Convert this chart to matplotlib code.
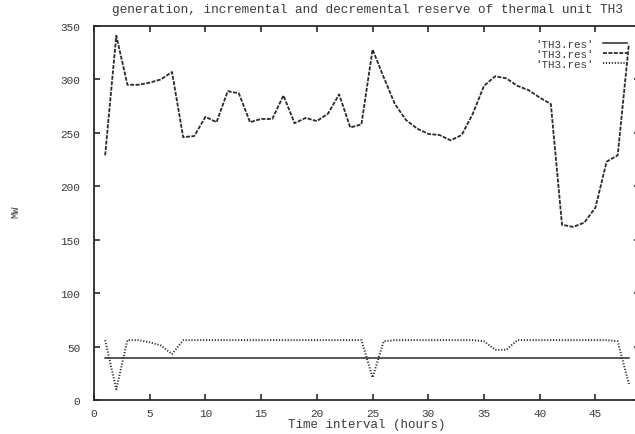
import matplotlib
matplotlib.use('Agg')
import matplotlib.pyplot as plt

# hourly schedule of unit TH3
hours = list(range(1, 49))
generation = [229, 341, 295, 295, 297, 300, 307, 246, 247, 265,
              260, 289, 287, 260, 263, 263, 285, 259, 264, 261,
              268, 286, 255, 258, 328, 302, 277, 262, 254, 249,
              248, 243, 248, 268, 294, 303, 301, 294, 290, 283,
              277, 164, 162, 166, 180, 223, 229, 333]
incremental = [56, 10, 56, 56, 54, 51, 43, 56, 56, 56,
               56, 56, 56, 56, 56, 56, 56, 56, 56, 56,
               56, 56, 56, 56, 21, 55, 56, 56, 56, 56,
               56, 56, 56, 56, 55, 47, 47, 56, 56, 56,
               56, 56, 56, 56, 56, 56, 55, 15]
decremental = [39] * 48

labels = ["'TH3.res'", "'TH3.res'", "'TH3.res'"]
title = 'generation, incremental and decremental reserve of thermal unit TH3'

plt.rcParams['font.family'] = ['Liberation Mono', 'DejaVu Sans Mono']
ink = '#2a2a2a'
txt = '#3a3a3a'

fig = plt.figure(figsize=(6.35, 4.35), dpi=100)
# left 94px, bottom 401px, top 27px; right border runs past the image edge
ax = fig.add_axes([94 / 635, 34 / 435, 546 / 635, 374 / 435])

ax.plot(hours, decremental, color=ink, linewidth=1.1, linestyle='-', label=labels[0])
ax.plot(hours, generation, color=ink, linewidth=1.3, linestyle=(0, (2.2, 0.8)), label=labels[1])
ax.plot(hours, incremental, color=ink, linewidth=1.4, linestyle=(0, (0.6, 0.9)), label=labels[2])

ax.set_xlim(0, 49)
ax.set_ylim(0, 350)
ax.set_xticks(range(0, 50, 5))
ax.set_yticks(range(0, 351, 50))
ax.tick_params(direction='in', length=4, width=1.2, top=True, right=True,
               labelsize=8, colors=ink, labelcolor=txt)
ax.tick_params(axis='y', pad=10)
ax.tick_params(axis='x', pad=6)
for s in ax.spines.values():
    s.set_linewidth(1.3)
    s.set_color(ink)

ax.set_title(title, fontsize=9.2, color=txt, pad=10)
ax.set_xlabel('Time interval (hours)', fontsize=9, color=txt, va='center')
ax.xaxis.set_label_coords(0.5, -0.064)
fig.text(15 / 635, 1 - 212 / 435, 'MW', rotation=90, fontsize=7.5,
         color=txt, ha='center', va='center')

ax.legend(loc='upper right', bbox_to_anchor=(627 / 635, 1 - 40 / 435),
          bbox_transform=fig.transFigure, frameon=False, markerfirst=False,
          fontsize=7.8, handlelength=2.2, handletextpad=0.9,
          labelspacing=0.0, borderpad=0, borderaxespad=0, labelcolor=txt)

fig.savefig('out.png', dpi=100)
